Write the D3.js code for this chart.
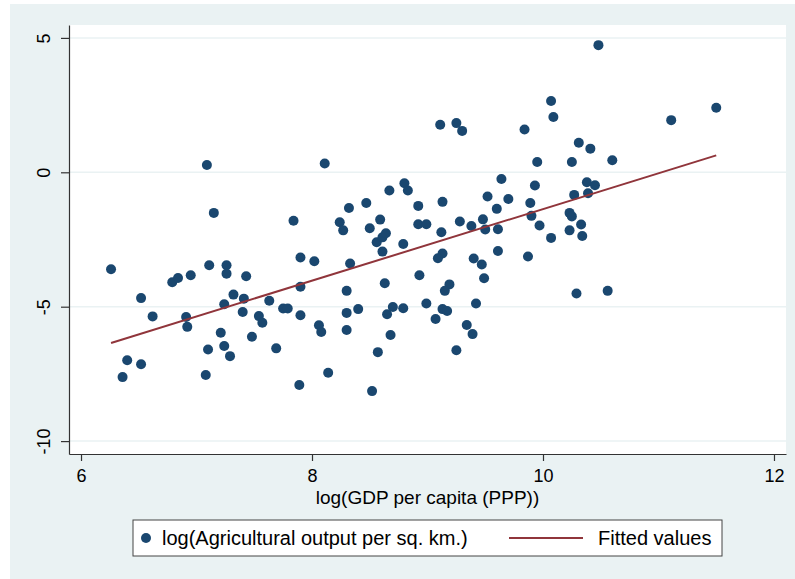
<html>
<head>
    <meta charset="utf-8">
    <script src="https://d3js.org/d3.v7.min.js"></script>
    <style>
      body { margin: 0; background: #fff; }
      text { font-family: "Liberation Sans", Arial, sans-serif; fill: #000; }
    </style>
</head>

<body>
<svg width=795 height=579></svg>
<script>
// log(GDP per capita (PPP))
const gdp = [6.26, 6.36, 6.40, 6.52, 6.52, 6.62, 6.79, 6.84, 6.95, 6.91, 6.92, 7.08, 7.10, 7.11, 7.09, 7.15,
  7.21, 7.24, 7.29, 7.24, 7.26, 7.26, 7.32, 7.41, 7.43, 7.40, 7.48, 7.54, 7.57, 7.63, 7.69, 7.75, 7.79,
  7.84, 7.90, 7.90, 7.90, 7.89, 8.02, 8.06, 8.08, 8.11, 8.14, 8.24, 8.27, 8.32, 8.33, 8.30, 8.30, 8.30,
  8.40, 8.47, 8.50, 8.52, 8.57, 8.56, 8.61, 8.64, 8.59, 8.61, 8.63, 8.65, 8.67, 8.68, 8.70, 8.79, 8.79,
  8.80, 8.83, 8.92, 8.92, 8.93, 8.99, 8.99, 9.07, 9.11, 9.13, 9.12, 9.13, 9.09, 9.13, 9.17, 9.19, 9.15,
  9.25, 9.30, 9.28, 9.25, 9.34, 9.38, 9.39, 9.40, 9.42, 9.47, 9.49, 9.48, 9.50, 9.52, 9.61, 9.61, 9.60,
  9.64, 9.70, 9.84, 9.87, 9.89, 9.90, 9.93, 9.95, 9.97, 10.07, 10.09, 10.07, 10.23, 10.23, 10.25, 10.25,
  10.27, 10.29, 10.31, 10.33, 10.34, 10.38, 10.39, 10.41, 10.45, 10.48, 10.56, 10.60, 11.11, 11.50];
// log(Agricultural output per sq. km.)
const agri = [-3.61, -7.62, -6.99, -4.68, -7.14, -5.36, -4.09, -3.93, -3.83, -5.38, -5.75, -7.54, -6.59, -3.46, 0.27, -1.51,
  -5.97, -6.46, -6.84, -4.91, -3.46, -3.77, -4.55, -4.70, -3.87, -5.20, -6.12, -5.35, -5.60, -4.78, -6.55, -5.07, -5.07,
  -1.80, -3.17, -4.26, -5.32, -7.91, -3.31, -5.69, -5.94, 0.33, -7.46, -1.86, -2.16, -1.33, -3.39, -4.41, -5.23, -5.87,
  -5.09, -1.14, -2.08, -8.14, -6.69, -2.60, -2.42, -2.27, -1.76, -2.95, -4.13, -5.28, -0.68, -6.05, -5.01, -2.67, -5.06,
  -0.41, -0.68, -1.25, -1.93, -3.83, -1.93, -4.88, -5.46, 1.77, -1.10, -2.23, -3.02, -3.20, -5.09, -5.16, -4.17, -4.41,
  1.83, 1.54, -1.83, -6.62, -5.68, -2.00, -6.02, -3.21, -4.88, -3.43, -3.94, -1.75, -2.13, -0.90, -2.12, -2.93, -1.36,
  -0.25, -0.99, 1.59, -3.13, -1.14, -1.62, -0.49, 0.38, -1.98, 2.65, 2.06, -2.44, -2.16, -1.51, -1.64, 0.38,
  -0.84, -4.51, 1.10, -1.94, -2.37, -0.37, -0.78, 0.88, -0.48, 4.73, -4.41, 0.45, 1.94, 2.40];
// fitted line end points
const fitX = [6.26, 11.50];
const fitY = [-6.35, 0.63];

const xTicks = [6, 8, 10, 12];
const yTicks = [-10, -5, 0, 5];
const xTitle = 'log(GDP per capita (PPP))';
const legendLabels = ['log(Agricultural output per sq. km.)', 'Fitted values'];

const navy = '#1a476f', maroon = '#90353b', bg = '#eaf2f3';

let svg = d3.select('svg');

// graph region and plot region
svg.append('rect').attr('x', 10).attr('y', 4).attr('width', 785).attr('height', 575).style('fill', bg);
svg.append('rect').attr('x', 69).attr('y', 25).attr('width', 717).attr('height', 429).style('fill', '#fff');

let x = d3.scaleLinear().domain([5.896, 12.104]).range([69, 786]);
let y = d3.scaleLinear().domain([-10.48, 5.48]).range([454, 25]);
let fmt = d => String(d); // plain hyphen minus, no decimals

// grid lines
svg.append('g')
  .selectAll('line')
  .data(yTicks)
  .join('line')
  .attr('x1', 69).attr('x2', 786)
  .attr('y1', d => y(d)).attr('y2', d => y(d))
  .style('stroke', bg).style('stroke-width', 1.5);

// y axis, labels turned upright like stata does
let yAxis = svg.append('g')
  .attr('transform', 'translate(69,0)')
  .call(d3.axisLeft(y).tickValues(yTicks).tickFormat(fmt).tickSize(8).tickSizeOuter(0));
yAxis.selectAll('text')
  .attr('x', 0).attr('dy', 0)
  .attr('text-anchor', 'middle')
  .attr('transform', 'translate(-19,0) rotate(-90)')
  .style('font-size', '18px');

let xAxis = svg.append('g')
  .attr('transform', 'translate(0,454)')
  .call(d3.axisBottom(x).tickValues(xTicks).tickFormat(fmt).tickSize(7).tickSizeOuter(0).tickPadding(8));
xAxis.selectAll('text').style('font-size', '18px');

svg.selectAll('.domain, .tick line').style('stroke', '#333').style('stroke-width', 1.2);

svg.append('text')
  .attr('x', 427.5).attr('y', 504)
  .attr('text-anchor', 'middle')
  .style('font-size', '19px')
  .text(xTitle);

// points
svg.append('g')
  .selectAll('circle')
  .data(gdp)
  .join('circle')
  .attr('cx', d => x(d))
  .attr('cy', (d, i) => y(agri[i]))
  .attr('r', 5)
  .style('fill', navy);

// fitted line
svg.append('path')
  .datum(fitX.map((d, i) => [d, fitY[i]]))
  .attr('d', d3.line().x(d => x(d[0])).y(d => y(d[1])))
  .style('fill', 'none')
  .style('stroke', maroon)
  .style('stroke-width', 2);

// legend
let lg = svg.append('g');
lg.append('rect').attr('x', 133).attr('y', 520).attr('width', 589).attr('height', 36)
  .style('fill', '#fff').style('stroke', '#444').style('stroke-width', 1);
lg.append('circle').attr('cx', 146).attr('cy', 538).attr('r', 5).style('fill', navy);
lg.append('line').attr('x1', 509).attr('x2', 583).attr('y1', 538).attr('y2', 538)
  .style('stroke', maroon).style('stroke-width', 2);
lg.selectAll('text')
  .data(legendLabels)
  .join('text')
  .attr('x', (d, i) => i ? 598 : 162)
  .attr('y', 545)
  .style('font-size', '20px')
  .text(d => d);
</script>

</body>
</html>
